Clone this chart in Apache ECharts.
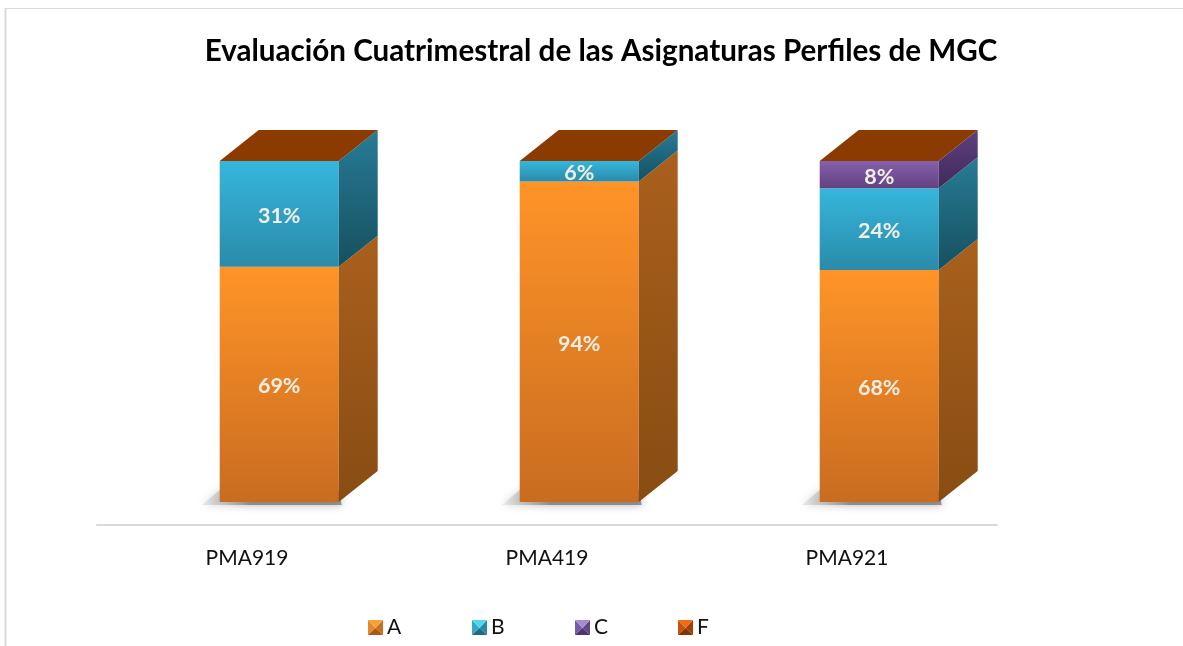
<!DOCTYPE html>
<html>
<head>
<meta charset="utf-8">
<style>html,body{margin:0;padding:0;background:#fff;overflow:hidden}#c{width:1183px;height:646px}</style>
<script src="https://cdn.jsdelivr.net/npm/echarts@6/dist/echarts.min.js"></script>
</head>
<body>
<div id="c"></div>
<script>
var categories = ['PMA919', 'PMA419', 'PMA921'];
var valuesA = [69, 94, 68];
var valuesB = [31, 6, 24];
var valuesC = [0, 0, 8];
var valuesF = [0, 0, 0];
var seriesNames = ['A', 'B', 'C', 'F'];
var titleText = 'Evaluación Cuatrimestral de las Asignaturas Perfiles de MGC';

var allValues = [valuesA, valuesB, valuesC, valuesF];
var FONT = 'Lato, "Open Sans", sans-serif';
var BAR_W = 119, DX = 39, DY = 31, SHIFT = 32.2;
var palette = [
  {front: ['#FF9428', '#C96C20'], side: ['#A9601D', '#884C12'], icon: ['#F9A03A', '#E08A30', '#C9701E', '#A85A14']},
  {front: ['#36B6DC', '#2A8BAA'], side: ['#287B97', '#16505F'], icon: ['#4FD6F2', '#35A8C6', '#2A88A4', '#1E6C84']},
  {front: ['#8560AC', '#634180'], side: ['#5E4080', '#402A58'], icon: ['#A98AD2', '#7A5AA2', '#644588', '#4E3470']},
  {front: ['#8B3A00', '#8B3A00'], side: ['#8B3A00', '#8B3A00'], icon: ['#F26A14', '#C4520C', '#A04208', '#843404']}
];

function iconOf(c) {
  var svg = '<svg xmlns="http://www.w3.org/2000/svg" width="15" height="15" viewBox="0 0 15 15">' +
    '<polygon points="0,0 0,15 7.5,8" fill="' + c[1] + '"/>' +
    '<polygon points="15,0 15,15 7.5,8" fill="' + c[2] + '"/>' +
    '<polygon points="0,15 15,15 7.5,8" fill="' + c[3] + '"/>' +
    '<polygon points="0,0 15,0 7.5,8" fill="' + c[0] + '"/></svg>';
  return 'image://data:image/svg+xml;charset=utf-8,' + encodeURIComponent(svg);
}

function grad(x0, y0, x1, y1, c) {
  return {type: 'linear', x: x0, y: y0, x2: x1, y2: y1,
    colorStops: [{offset: 0, color: c[0]}, {offset: 1, color: c[1]}]};
}

function makeRender(sIdx) {
  return function (params, api) {
    var cat = api.value(0), base = api.value(1), val = api.value(2);
    var pTop = api.coord([cat, base + val]);
    var pBase = api.coord([cat, base]);
    var left = pTop[0] + SHIFT - BAR_W / 2, right = left + BAR_W;
    var yT = pTop[1], yB = pBase[1];
    var kids = [];
    var pal = palette[sIdx];
    if (sIdx === 0) {
      kids.push({type: 'polygon', shape: {points: [[left - 18, yB + 3], [left, yB - 12], [right, yB - 12], [right + 3, yB + 3]]},
        style: {fill: grad(0, 0, 0.35, 0, ['rgba(190,190,190,0.25)', 'rgba(110,110,110,0.7)']),
          shadowBlur: 8, shadowColor: 'rgba(120,120,120,0.8)'}});
    }
    if (val > 0) {
      kids.push({type: 'rect', shape: {x: left, y: yT, width: BAR_W, height: yB - yT},
        style: {fill: grad(0, 0, 0, 1, pal.front)}});
      kids.push({type: 'polygon', shape: {points: [[right, yT], [right + DX, yT - DY], [right + DX, yB - DY], [right, yB]]},
        style: {fill: grad(0, 0, 0, 1, pal.side)}});
      kids.push({type: 'text', z2: 5, style: {x: left + BAR_W / 2, y: (yT + yB) / 2 + 2, text: val + '%',
        fill: '#F3EFE6', font: 'bold 21.5px ' + FONT, align: 'center', verticalAlign: 'middle'}});
    } else if (sIdx === 3) {
      kids.push({type: 'polygon', shape: {points: [[left, yT], [right, yT], [right + DX, yT - DY], [left + DX, yT - DY]]},
        style: {fill: pal.front[0]}});
    }
    return {type: 'group', children: kids};
  };
}

var runningBase = categories.map(function () { return 0; });
var series = seriesNames.map(function (name, s) {
  var data = categories.map(function (c, i) {
    var row = [i, runningBase[i], allValues[s][i]];
    runningBase[i] += allValues[s][i];
    return row;
  });
  return {
    type: 'custom', name: name, data: data, renderItem: makeRender(s), clip: false, silent: true,
    encode: {x: 0, y: [1, 2]},
    itemStyle: {color: palette[s].front[0]}
  };
});

var legendLefts = [368, 472, 575, 678];
var legends = seriesNames.map(function (name, s) {
  return {
    left: legendLefts[s], top: 617, padding: 0, itemWidth: 15, itemHeight: 15, itemGap: 0,
    selectedMode: false,
    data: [{name: name, icon: iconOf(palette[s].icon)}],
    textStyle: {fontFamily: FONT, fontSize: 21, color: '#111', padding: [0, 0, 0, -1]}
  };
});

var chart = echarts.init(document.getElementById('c'), null, {renderer: 'canvas'});
chart.setOption({
  backgroundColor: '#fff',
  animation: false,
  title: {
    text: titleText, left: 601, top: 36, textAlign: 'center', padding: 0,
    textStyle: {fontFamily: FONT, fontSize: 29.6, fontWeight: 'bold', color: '#000'}
  },
  legend: legends,
  tooltip: {show: false},
  grid: {left: 97, right: 186, top: 161, bottom: 121},
  xAxis: {
    type: 'category', data: categories,
    axisLine: {show: true, onZero: false, lineStyle: {color: '#D9D9D9', width: 2}},
    axisTick: {show: false},
    axisLabel: {margin: 23, fontFamily: FONT, fontSize: 21, color: '#111'}
  },
  yAxis: {type: 'value', show: false, min: -6.745, max: 100, splitLine: {show: false}},
  graphic: [
    {type: 'line', silent: true, shape: {x1: 5, y1: 8.5, x2: 1183, y2: 8.5}, style: {stroke: '#D9D9D9', lineWidth: 1}},
    {type: 'line', silent: true, shape: {x1: 5.5, y1: 8, x2: 5.5, y2: 646}, style: {stroke: '#D9D9D9', lineWidth: 2}}
  ],
  series: series
});
</script>
</body>
</html>
